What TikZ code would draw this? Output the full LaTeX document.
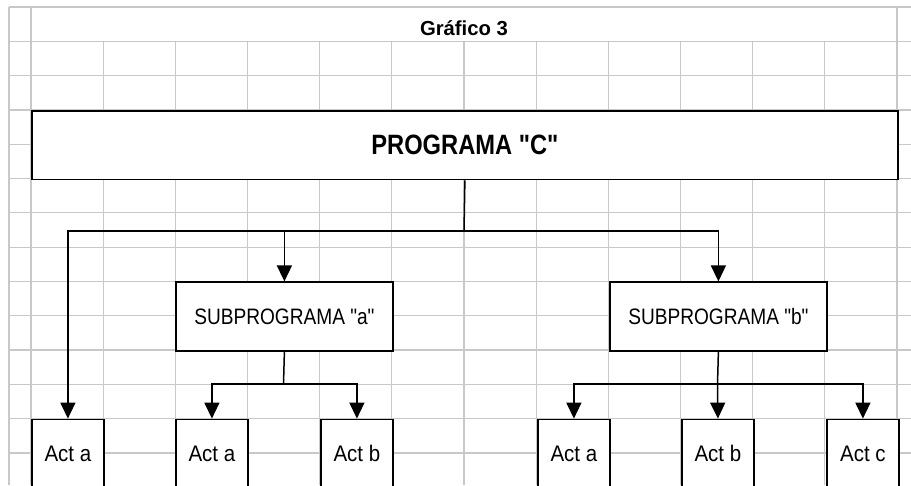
\documentclass[tikz,border=0pt]{standalone}
\usepackage{fontspec}
\usepackage{graphicx}
\setmainfont{Liberation Sans}
\usetikzlibrary{arrows.meta}
\definecolor{gridgray}{HTML}{C8C8C8}
\newcommand{\dq}{\textquotedbl}
\begin{document}
\begin{tikzpicture}[x=1pt,y=-1pt,
  gridline/.style={draw=gridgray, line width=1.2pt},
  box/.style={draw=black, line width=1.8pt, fill=white, inner sep=0pt, anchor=north west},
  conn/.style={draw=black, line width=1.5pt},
  arr/.style={conn, -{Triangle[width=15pt,length=16pt]}},
  acttext/.style={font=\fontsize{20.5}{24}\selectfont},
  subtext/.style={font=\fontsize{19.1}{23}\selectfont}]
\useasboundingbox (0,0) rectangle (911,485);
\clip (0,0) rectangle (911,485);
\fill[white] (0,0) rectangle (911,485);
% grid
\foreach \k in {0,...,13} \draw[gridline] (9,{7+34.3*\k}) -- (911,{7+34.3*\k});
\foreach \x in {9,31,897} \draw[gridline] (\x,7) -- (\x,485);
\foreach \j in {1,...,11} \draw[gridline] ({31+72.17*\j},41.3) -- ({31+72.17*\j},485);
% title
\node[font=\bfseries\fontsize{20.3}{24}\selectfont, anchor=base] (title) at (464,35) {Gráfico 3};
% boxes
\node[box, minimum width=866pt, minimum height=68.6pt, font=\bfseries\fontsize{23.7}{28}\selectfont] (prog) at (31,109.9) {\scalebox{1}[1.18]{PROGRAMA \dq C\dq}};
\node[box, minimum width=217pt, minimum height=68.6pt, subtext] (suba) at (175,281.4) {\scalebox{1}[1.17]{SUBPROGRAMA \dq a\dq}};
\node[box, minimum width=217pt, minimum height=68.6pt, subtext] (subb) at (609,281.4) {\scalebox{1}[1.17]{SUBPROGRAMA \dq b\dq}};
\node[box, minimum width=72pt, minimum height=68pt, acttext] (actL) at (31,418.6) {\scalebox{1}[1.1]{Act a}};
\node[box, minimum width=72pt, minimum height=68pt, acttext] (aa) at (175,418.6) {\scalebox{1}[1.1]{Act a}};
\node[box, minimum width=72pt, minimum height=68pt, acttext] (ab) at (320,418.6) {\scalebox{1}[1.1]{Act b}};
\node[box, minimum width=72pt, minimum height=68pt, acttext] (ba) at (537,418.6) {\scalebox{1}[1.1]{Act a}};
\node[box, minimum width=72pt, minimum height=68pt, acttext] (bb) at (681,418.6) {\scalebox{1}[1.1]{Act b}};
\node[box, minimum width=72pt, minimum height=68pt, acttext] (bc) at (826,418.6) {\scalebox{1}[1.1]{Act c}};
% connectors
\coordinate (j1) at (464,231);
\coordinate (j2) at (283.5,384);
\coordinate (j3) at (717.5,384);
\draw[conn] (prog.south) -- (j1);
\draw[arr] (j1) -| (actL.north);
\draw[arr] (j1) -| (suba.north);
\draw[arr] (j1) -| (subb.north);
\draw[conn] (suba.south) -- (j2);
\draw[arr] (j2) -| (aa.north);
\draw[arr] (j2) -| (ab.north);
\draw[conn] (subb.south) -- (j3);
\draw[arr] (j3) -| (ba.north);
\draw[arr] (j3) -- (bb.north);
\draw[arr] (j3) -| (bc.north);
\end{tikzpicture}
\end{document}
